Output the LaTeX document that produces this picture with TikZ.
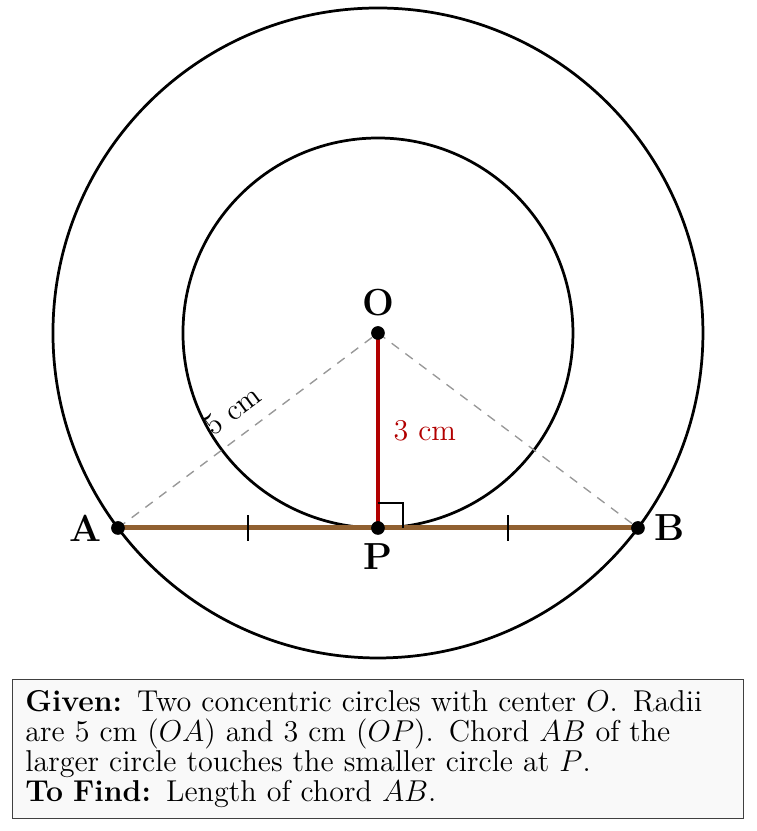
\RequirePackage{fix-cm}
\documentclass[tikz,border=0pt]{standalone}
\usepackage{amsmath}
\usepackage{xcolor}
\usepackage{tikz}
\usetikzlibrary{calc,positioning}

\begin{document}
\begin{tikzpicture}[
    % GLOBAL CFG
    font=\fontsize{13.2}{13.2}\selectfont,
    % Styles
    circ/.style={% For the two circles
        line width=1.2pt,
        },
    dot/.style={% For the marked points
        circle,
        fill=black,
        inner sep=0pt,
        minimum size=6pt,
        },
    ptlabel/.style={% For the point names
        font=\fontsize{16.5}{18}\selectfont\bfseries,
        },
    radius/.style={% For dashed radii
        dash pattern=on 4pt off 3.5pt,
        gray!80,
        semithick,
        },
    chord/.style={% For the chord
        line width=2.2pt,
        brown!75!black,
        },
    tick/.style={% For equal-part marks
        line width=1.2pt,
        },
    givenbox/.style={% For the text box
        rectangle,
        draw=black!75,
        fill=gray!5,
        text width=10.85cm,
        inner xsep=0.2cm,
        inner ysep=0.17cm,
        align=left,
        },
    ]
    \useasboundingbox (-5.815,-7.662) rectangle (5.831,5.123);

    % Points
    \coordinate (O) at (0,0);
    \coordinate (A) at (-4,-3);
    \coordinate (B) at (4,-3);
    \coordinate (P) at (0,-3);
    \coordinate (m1) at ($(A)!0.5!(P)$);
    \coordinate (m2) at ($(P)!0.5!(B)$);

    % Draw the circles
    \draw[circ] (O) circle (5);
    \draw[circ] (O) circle (3);

    % Radii
    \draw[radius] (A) -- (O) node[midway, sloped, above=0.1cm, text=black] {5 cm};
    \draw[radius] (O) -- (B);
    \draw[red!70!black, line width=1.4pt] (O) -- (P) node[midway, right=0.1cm] {3 cm};

    % Chord and marks
    \draw[chord] (A) -- (B);
    \draw[tick] (m1) ++(0,-0.2) -- ++(0,0.4);
    \draw[tick] (m2) ++(0,-0.2) -- ++(0,0.4);
    \draw[semithick] ($(P)+(0,0.385)$) -| ($(P)+(0.385,0)$); % right angle

    % Dots and names
    \node[dot, label={[ptlabel, label distance=0.02cm]above:O}] (dO) at (O) {};
    \node[dot, label={[ptlabel, label distance=0.02cm]left:A}] (dA) at (A) {};
    \node[dot, label={[ptlabel, label distance=0.02cm]right:B}] (dB) at (B) {};
    \node[dot, label={[ptlabel, label distance=0cm]below:P}] (dP) at (P) {};

    % Text box
    \node[givenbox] (given) at (0,-6.4) {\textbf{Given:} Two concentric circles with center $O$. Radii are 5 cm ($OA$) and 3 cm ($OP$). Chord $AB$ of the larger circle touches the smaller circle at $P$.\\
    \textbf{To Find:} Length of chord $AB$.};
\end{tikzpicture}
\end{document}
